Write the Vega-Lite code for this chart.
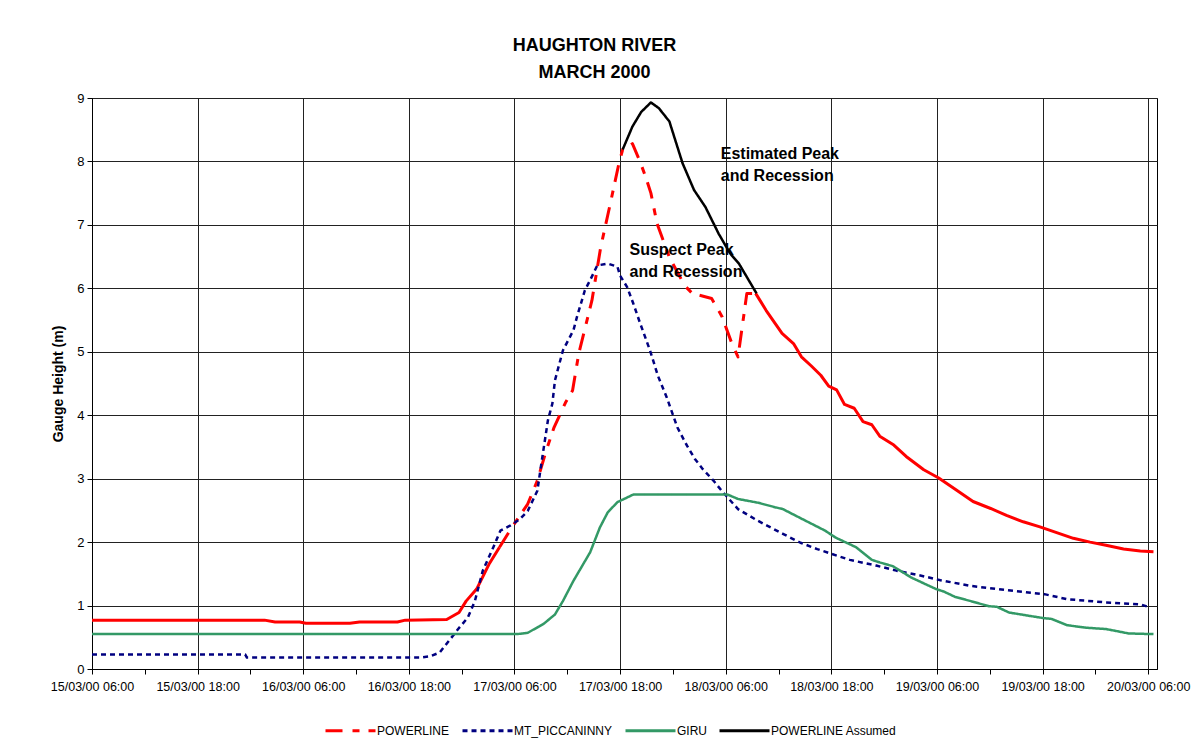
{
  "$schema": "https://vega.github.io/schema/vega-lite/v6.json",
  "width": 1065,
  "height": 571,
  "autosize": {"type": "none"},
  "padding": {"left": 92, "top": 98, "right": 47, "bottom": 76},
  "background": "white",
  "config": {
    "font": "Liberation Sans",
    "view": {"stroke": "#000", "strokeWidth": 1},
    "axis": {"labelFont": "Liberation Sans", "titleFont": "Liberation Sans", "labelColor": "#000", "titleColor": "#000", "tickColor": "#000", "domainColor": "#000", "gridColor": "#222", "gridWidth": 1, "labelFontSize": 12, "tickSize": 5},
    "legend": {"symbolType": "stroke", "symbolSize": 2500, "symbolStrokeWidth": 3, "labelFont": "Liberation Sans", "labelFontSize": 12, "labelColor": "#000", "labelOffset": 0, "columnPadding": 6, "labelLimit": 300}
  },
  "title": {
    "text": ["HAUGHTON RIVER", "MARCH 2000"],
    "font": "Liberation Sans",
    "fontSize": 18,
    "fontWeight": "bold",
    "color": "#000",
    "lineHeight": 27,
    "anchor": "middle",
    "frame": "group",
    "dx": -30,
    "offset": 10
  },
  "datasets": {
    "d": [
      {"series": "POWERLINE", "t": "2000-03-15T06:00", "v": 0.77},
      {"series": "POWERLINE", "t": "2000-03-16T01:36", "v": 0.77},
      {"series": "POWERLINE", "t": "2000-03-16T02:48", "v": 0.74},
      {"series": "POWERLINE", "t": "2000-03-16T05:36", "v": 0.74},
      {"series": "POWERLINE", "t": "2000-03-16T06:18", "v": 0.72},
      {"series": "POWERLINE", "t": "2000-03-16T11:18", "v": 0.72},
      {"series": "POWERLINE", "t": "2000-03-16T12:24", "v": 0.74},
      {"series": "POWERLINE", "t": "2000-03-16T16:42", "v": 0.74},
      {"series": "POWERLINE", "t": "2000-03-16T17:36", "v": 0.77},
      {"series": "POWERLINE", "t": "2000-03-16T22:18", "v": 0.78},
      {"series": "POWERLINE", "t": "2000-03-16T23:42", "v": 0.89},
      {"series": "POWERLINE", "t": "2000-03-17T00:30", "v": 1.07},
      {"series": "POWERLINE", "t": "2000-03-17T01:42", "v": 1.26},
      {"series": "POWERLINE", "t": "2000-03-17T03:06", "v": 1.65},
      {"series": "POWERLINE", "t": "2000-03-17T04:18", "v": 1.92},
      {"series": "POWERLINE", "t": "2000-03-17T05:42", "v": 2.23},
      {"series": "POWERLINE", "t": "2000-03-17T07:30", "v": 2.6},
      {"series": "POWERLINE", "t": "2000-03-17T08:36", "v": 2.97},
      {"series": "POWERLINE", "t": "2000-03-17T09:36", "v": 3.44},
      {"series": "POWERLINE", "t": "2000-03-17T10:30", "v": 3.81},
      {"series": "POWERLINE", "t": "2000-03-17T11:48", "v": 4.2},
      {"series": "POWERLINE", "t": "2000-03-17T12:36", "v": 4.39},
      {"series": "POWERLINE", "t": "2000-03-17T13:18", "v": 4.97},
      {"series": "POWERLINE", "t": "2000-03-17T14:48", "v": 5.81},
      {"series": "POWERLINE", "t": "2000-03-17T15:48", "v": 6.65},
      {"series": "POWERLINE", "t": "2000-03-17T16:48", "v": 7.28},
      {"series": "POWERLINE", "t": "2000-03-17T17:54", "v": 7.99},
      {"series": "POWERLINE", "t": "2000-03-17T18:18", "v": 8.19},
      {"series": "POWERLINE", "t": "2000-03-17T19:24", "v": 8.28},
      {"series": "POWERLINE", "t": "2000-03-17T20:12", "v": 8.02},
      {"series": "POWERLINE", "t": "2000-03-17T20:54", "v": 7.76},
      {"series": "POWERLINE", "t": "2000-03-17T21:30", "v": 7.5},
      {"series": "POWERLINE", "t": "2000-03-17T22:12", "v": 7.02},
      {"series": "POWERLINE", "t": "2000-03-17T23:36", "v": 6.49},
      {"series": "POWERLINE", "t": "2000-03-18T01:00", "v": 6.13},
      {"series": "POWERLINE", "t": "2000-03-18T01:30", "v": 6.02},
      {"series": "POWERLINE", "t": "2000-03-18T02:12", "v": 5.92},
      {"series": "POWERLINE", "t": "2000-03-18T04:24", "v": 5.84},
      {"series": "POWERLINE", "t": "2000-03-18T05:36", "v": 5.55},
      {"series": "POWERLINE", "t": "2000-03-18T06:42", "v": 5.13},
      {"series": "POWERLINE", "t": "2000-03-18T07:24", "v": 4.92},
      {"series": "POWERLINE", "t": "2000-03-18T08:24", "v": 5.92},
      {"series": "POWERLINE", "t": "2000-03-18T09:24", "v": 5.92},
      {"series": "POWERLINE", "t": "2000-03-18T10:36", "v": 5.65},
      {"series": "POWERLINE", "t": "2000-03-18T12:24", "v": 5.29},
      {"series": "POWERLINE", "t": "2000-03-18T13:42", "v": 5.13},
      {"series": "POWERLINE", "t": "2000-03-18T14:36", "v": 4.92},
      {"series": "POWERLINE", "t": "2000-03-18T15:42", "v": 4.78},
      {"series": "POWERLINE", "t": "2000-03-18T16:48", "v": 4.63},
      {"series": "POWERLINE", "t": "2000-03-18T17:42", "v": 4.46},
      {"series": "POWERLINE", "t": "2000-03-18T18:36", "v": 4.4},
      {"series": "POWERLINE", "t": "2000-03-18T19:30", "v": 4.17},
      {"series": "POWERLINE", "t": "2000-03-18T20:36", "v": 4.11},
      {"series": "POWERLINE", "t": "2000-03-18T21:36", "v": 3.9},
      {"series": "POWERLINE", "t": "2000-03-18T22:36", "v": 3.85},
      {"series": "POWERLINE", "t": "2000-03-18T23:30", "v": 3.67},
      {"series": "POWERLINE", "t": "2000-03-19T01:06", "v": 3.53},
      {"series": "POWERLINE", "t": "2000-03-19T02:30", "v": 3.35},
      {"series": "POWERLINE", "t": "2000-03-19T04:30", "v": 3.14},
      {"series": "POWERLINE", "t": "2000-03-19T06:12", "v": 3.01},
      {"series": "POWERLINE", "t": "2000-03-19T08:12", "v": 2.82},
      {"series": "POWERLINE", "t": "2000-03-19T10:06", "v": 2.64},
      {"series": "POWERLINE", "t": "2000-03-19T12:06", "v": 2.53},
      {"series": "POWERLINE", "t": "2000-03-19T13:54", "v": 2.42},
      {"series": "POWERLINE", "t": "2000-03-19T15:48", "v": 2.32},
      {"series": "POWERLINE", "t": "2000-03-19T17:42", "v": 2.24},
      {"series": "POWERLINE", "t": "2000-03-19T19:36", "v": 2.15},
      {"series": "POWERLINE", "t": "2000-03-19T21:30", "v": 2.06},
      {"series": "POWERLINE", "t": "2000-03-19T23:24", "v": 2.0},
      {"series": "POWERLINE", "t": "2000-03-20T01:12", "v": 1.95},
      {"series": "POWERLINE", "t": "2000-03-20T03:12", "v": 1.89},
      {"series": "POWERLINE", "t": "2000-03-20T05:06", "v": 1.86},
      {"series": "POWERLINE", "t": "2000-03-20T06:36", "v": 1.85},

      {"series": "MT_PICCANINNY", "t": "2000-03-15T06:00", "v": 0.23},
      {"series": "MT_PICCANINNY", "t": "2000-03-15T23:24", "v": 0.23},
      {"series": "MT_PICCANINNY", "t": "2000-03-15T23:36", "v": 0.18},
      {"series": "MT_PICCANINNY", "t": "2000-03-16T19:18", "v": 0.18},
      {"series": "MT_PICCANINNY", "t": "2000-03-16T20:24", "v": 0.2},
      {"series": "MT_PICCANINNY", "t": "2000-03-16T21:30", "v": 0.26},
      {"series": "MT_PICCANINNY", "t": "2000-03-16T22:42", "v": 0.47},
      {"series": "MT_PICCANINNY", "t": "2000-03-16T23:36", "v": 0.63},
      {"series": "MT_PICCANINNY", "t": "2000-03-17T00:42", "v": 0.81},
      {"series": "MT_PICCANINNY", "t": "2000-03-17T01:30", "v": 1.07},
      {"series": "MT_PICCANINNY", "t": "2000-03-17T02:24", "v": 1.55},
      {"series": "MT_PICCANINNY", "t": "2000-03-17T03:36", "v": 1.92},
      {"series": "MT_PICCANINNY", "t": "2000-03-17T04:24", "v": 2.18},
      {"series": "MT_PICCANINNY", "t": "2000-03-17T05:30", "v": 2.26},
      {"series": "MT_PICCANINNY", "t": "2000-03-17T06:36", "v": 2.36},
      {"series": "MT_PICCANINNY", "t": "2000-03-17T07:30", "v": 2.49},
      {"series": "MT_PICCANINNY", "t": "2000-03-17T08:36", "v": 2.81},
      {"series": "MT_PICCANINNY", "t": "2000-03-17T09:06", "v": 3.28},
      {"series": "MT_PICCANINNY", "t": "2000-03-17T09:48", "v": 3.92},
      {"series": "MT_PICCANINNY", "t": "2000-03-17T10:18", "v": 4.18},
      {"series": "MT_PICCANINNY", "t": "2000-03-17T10:36", "v": 4.55},
      {"series": "MT_PICCANINNY", "t": "2000-03-17T11:30", "v": 5.02},
      {"series": "MT_PICCANINNY", "t": "2000-03-17T12:42", "v": 5.34},
      {"series": "MT_PICCANINNY", "t": "2000-03-17T13:06", "v": 5.55},
      {"series": "MT_PICCANINNY", "t": "2000-03-17T14:00", "v": 5.97},
      {"series": "MT_PICCANINNY", "t": "2000-03-17T14:36", "v": 6.13},
      {"series": "MT_PICCANINNY", "t": "2000-03-17T15:24", "v": 6.36},
      {"series": "MT_PICCANINNY", "t": "2000-03-17T16:36", "v": 6.39},
      {"series": "MT_PICCANINNY", "t": "2000-03-17T17:42", "v": 6.34},
      {"series": "MT_PICCANINNY", "t": "2000-03-17T18:00", "v": 6.2},
      {"series": "MT_PICCANINNY", "t": "2000-03-17T18:48", "v": 6.02},
      {"series": "MT_PICCANINNY", "t": "2000-03-17T19:30", "v": 5.76},
      {"series": "MT_PICCANINNY", "t": "2000-03-17T20:18", "v": 5.44},
      {"series": "MT_PICCANINNY", "t": "2000-03-17T21:24", "v": 5.02},
      {"series": "MT_PICCANINNY", "t": "2000-03-17T22:18", "v": 4.62},
      {"series": "MT_PICCANINNY", "t": "2000-03-17T23:18", "v": 4.28},
      {"series": "MT_PICCANINNY", "t": "2000-03-18T00:30", "v": 3.81},
      {"series": "MT_PICCANINNY", "t": "2000-03-18T01:36", "v": 3.52},
      {"series": "MT_PICCANINNY", "t": "2000-03-18T02:30", "v": 3.31},
      {"series": "MT_PICCANINNY", "t": "2000-03-18T03:24", "v": 3.15},
      {"series": "MT_PICCANINNY", "t": "2000-03-18T04:36", "v": 2.97},
      {"series": "MT_PICCANINNY", "t": "2000-03-18T05:36", "v": 2.8},
      {"series": "MT_PICCANINNY", "t": "2000-03-18T07:24", "v": 2.52},
      {"series": "MT_PICCANINNY", "t": "2000-03-18T09:36", "v": 2.34},
      {"series": "MT_PICCANINNY", "t": "2000-03-18T10:42", "v": 2.26},
      {"series": "MT_PICCANINNY", "t": "2000-03-18T12:30", "v": 2.13},
      {"series": "MT_PICCANINNY", "t": "2000-03-18T14:30", "v": 1.99},
      {"series": "MT_PICCANINNY", "t": "2000-03-18T16:24", "v": 1.89},
      {"series": "MT_PICCANINNY", "t": "2000-03-18T17:54", "v": 1.82},
      {"series": "MT_PICCANINNY", "t": "2000-03-18T20:06", "v": 1.72},
      {"series": "MT_PICCANINNY", "t": "2000-03-18T23:06", "v": 1.63},
      {"series": "MT_PICCANINNY", "t": "2000-03-19T01:24", "v": 1.55},
      {"series": "MT_PICCANINNY", "t": "2000-03-19T03:54", "v": 1.48},
      {"series": "MT_PICCANINNY", "t": "2000-03-19T06:24", "v": 1.4},
      {"series": "MT_PICCANINNY", "t": "2000-03-19T09:48", "v": 1.31},
      {"series": "MT_PICCANINNY", "t": "2000-03-19T14:06", "v": 1.24},
      {"series": "MT_PICCANINNY", "t": "2000-03-19T18:12", "v": 1.18},
      {"series": "MT_PICCANINNY", "t": "2000-03-19T20:48", "v": 1.1},
      {"series": "MT_PICCANINNY", "t": "2000-03-20T01:12", "v": 1.05},
      {"series": "MT_PICCANINNY", "t": "2000-03-20T05:06", "v": 1.02},
      {"series": "MT_PICCANINNY", "t": "2000-03-20T06:00", "v": 0.98},

      {"series": "GIRU", "t": "2000-03-15T06:00", "v": 0.55},
      {"series": "GIRU", "t": "2000-03-17T06:18", "v": 0.55},
      {"series": "GIRU", "t": "2000-03-17T07:30", "v": 0.57},
      {"series": "GIRU", "t": "2000-03-17T09:18", "v": 0.71},
      {"series": "GIRU", "t": "2000-03-17T10:36", "v": 0.86},
      {"series": "GIRU", "t": "2000-03-17T11:30", "v": 1.07},
      {"series": "GIRU", "t": "2000-03-17T12:42", "v": 1.39},
      {"series": "GIRU", "t": "2000-03-17T14:36", "v": 1.84},
      {"series": "GIRU", "t": "2000-03-17T15:42", "v": 2.23},
      {"series": "GIRU", "t": "2000-03-17T16:36", "v": 2.47},
      {"series": "GIRU", "t": "2000-03-17T17:42", "v": 2.63},
      {"series": "GIRU", "t": "2000-03-17T19:30", "v": 2.75},
      {"series": "GIRU", "t": "2000-03-18T06:12", "v": 2.75},
      {"series": "GIRU", "t": "2000-03-18T07:24", "v": 2.68},
      {"series": "GIRU", "t": "2000-03-18T09:42", "v": 2.62},
      {"series": "GIRU", "t": "2000-03-18T11:36", "v": 2.55},
      {"series": "GIRU", "t": "2000-03-18T12:30", "v": 2.52},
      {"series": "GIRU", "t": "2000-03-18T13:54", "v": 2.42},
      {"series": "GIRU", "t": "2000-03-18T15:36", "v": 2.3},
      {"series": "GIRU", "t": "2000-03-18T17:18", "v": 2.18},
      {"series": "GIRU", "t": "2000-03-18T18:30", "v": 2.07},
      {"series": "GIRU", "t": "2000-03-18T20:48", "v": 1.92},
      {"series": "GIRU", "t": "2000-03-18T22:36", "v": 1.72},
      {"series": "GIRU", "t": "2000-03-18T23:30", "v": 1.68},
      {"series": "GIRU", "t": "2000-03-19T01:00", "v": 1.62},
      {"series": "GIRU", "t": "2000-03-19T03:06", "v": 1.44},
      {"series": "GIRU", "t": "2000-03-19T05:54", "v": 1.26},
      {"series": "GIRU", "t": "2000-03-19T06:48", "v": 1.22},
      {"series": "GIRU", "t": "2000-03-19T08:00", "v": 1.14},
      {"series": "GIRU", "t": "2000-03-19T10:06", "v": 1.06},
      {"series": "GIRU", "t": "2000-03-19T11:54", "v": 0.99},
      {"series": "GIRU", "t": "2000-03-19T12:48", "v": 0.98},
      {"series": "GIRU", "t": "2000-03-19T14:12", "v": 0.89},
      {"series": "GIRU", "t": "2000-03-19T16:24", "v": 0.84},
      {"series": "GIRU", "t": "2000-03-19T18:12", "v": 0.8},
      {"series": "GIRU", "t": "2000-03-19T19:00", "v": 0.79},
      {"series": "GIRU", "t": "2000-03-19T20:48", "v": 0.69},
      {"series": "GIRU", "t": "2000-03-19T23:00", "v": 0.65},
      {"series": "GIRU", "t": "2000-03-20T01:12", "v": 0.63},
      {"series": "GIRU", "t": "2000-03-20T03:48", "v": 0.56},
      {"series": "GIRU", "t": "2000-03-20T06:36", "v": 0.55},

      {"series": "POWERLINE Assumed", "t": "2000-03-17T18:18", "v": 8.19},
      {"series": "POWERLINE Assumed", "t": "2000-03-17T19:24", "v": 8.55},
      {"series": "POWERLINE Assumed", "t": "2000-03-17T20:24", "v": 8.78},
      {"series": "POWERLINE Assumed", "t": "2000-03-17T21:30", "v": 8.93},
      {"series": "POWERLINE Assumed", "t": "2000-03-17T22:24", "v": 8.84},
      {"series": "POWERLINE Assumed", "t": "2000-03-17T23:36", "v": 8.63},
      {"series": "POWERLINE Assumed", "t": "2000-03-18T01:06", "v": 7.97},
      {"series": "POWERLINE Assumed", "t": "2000-03-18T02:24", "v": 7.55},
      {"series": "POWERLINE Assumed", "t": "2000-03-18T03:42", "v": 7.28},
      {"series": "POWERLINE Assumed", "t": "2000-03-18T05:12", "v": 6.86},
      {"series": "POWERLINE Assumed", "t": "2000-03-18T06:30", "v": 6.55},
      {"series": "POWERLINE Assumed", "t": "2000-03-18T07:30", "v": 6.39},
      {"series": "POWERLINE Assumed", "t": "2000-03-18T09:30", "v": 5.92}
    ]
  },
  "data": {"name": "d"},
  "encoding": {
    "x": {
      "field": "t",
      "type": "temporal",
      "title": null,
      "scale": {"domain": [{"year": 2000, "month": 3, "date": 15, "hours": 6}, {"year": 2000, "month": 3, "date": 20, "hours": 7}]},
      "axis": {
        "values": [
          {"year": 2000, "month": 3, "date": 15, "hours": 6}, {"year": 2000, "month": 3, "date": 15, "hours": 12}, {"year": 2000, "month": 3, "date": 15, "hours": 18},
          {"year": 2000, "month": 3, "date": 16, "hours": 0}, {"year": 2000, "month": 3, "date": 16, "hours": 6}, {"year": 2000, "month": 3, "date": 16, "hours": 12}, {"year": 2000, "month": 3, "date": 16, "hours": 18},
          {"year": 2000, "month": 3, "date": 17, "hours": 0}, {"year": 2000, "month": 3, "date": 17, "hours": 6}, {"year": 2000, "month": 3, "date": 17, "hours": 12}, {"year": 2000, "month": 3, "date": 17, "hours": 18},
          {"year": 2000, "month": 3, "date": 18, "hours": 0}, {"year": 2000, "month": 3, "date": 18, "hours": 6}, {"year": 2000, "month": 3, "date": 18, "hours": 12}, {"year": 2000, "month": 3, "date": 18, "hours": 18},
          {"year": 2000, "month": 3, "date": 19, "hours": 0}, {"year": 2000, "month": 3, "date": 19, "hours": 6}, {"year": 2000, "month": 3, "date": 19, "hours": 12}, {"year": 2000, "month": 3, "date": 19, "hours": 18},
          {"year": 2000, "month": 3, "date": 20, "hours": 0}, {"year": 2000, "month": 3, "date": 20, "hours": 6}
        ],
        "labelExpr": "hours(datum.value) % 12 == 6 ? timeFormat(datum.value, '%d/%m/%y %H:%M') : ''",
        "labelOverlap": false,
        "labelFlush": false,
        "labelPadding": 6,
        "labelFontSize": 12.5,
        "grid": true,
        "gridOpacity": {"condition": {"test": "hours(datum.value) % 12 == 6", "value": 1}, "value": 0}
      }
    },
    "y": {
      "field": "v",
      "type": "quantitative",
      "scale": {"domain": [0, 9], "nice": false},
      "axis": {
        "values": [0, 1, 2, 3, 4, 5, 6, 7, 8, 9],
        "title": "Gauge Height (m)",
        "titleFontSize": 14,
        "titleFontWeight": "bold",
        "titlePadding": 11,
        "labelPadding": 3,
        "labelFontSize": 13,
        "grid": true
      }
    }
  },
  "layer": [
    {
      "transform": [{"filter": "datum.series == 'POWERLINE' && time(datum.t) <= time('2000-03-17T04:18')"}],
      "mark": {"type": "line", "strokeWidth": 3, "strokeJoin": "round"},
      "encoding": {
        "color": {"field": "series", "type": "nominal", "scale": {"domain": ["POWERLINE", "MT_PICCANINNY", "GIRU", "POWERLINE Assumed"], "range": ["#ff0000", "#000080", "#339966", "#000000"]}, "legend": {"title": null, "orient": "none", "legendX": 232, "legendY": 606, "direction": "horizontal"}}
      }
    },
    {
      "transform": [{"filter": "datum.series == 'POWERLINE' && time(datum.t) >= time('2000-03-17T04:18') && time(datum.t) <= time('2000-03-18T09:24')"}],
      "mark": {"type": "line", "strokeWidth": 3, "strokeJoin": "round"},
      "encoding": {
        "color": {"field": "series", "type": "nominal", "scale": {"domain": ["POWERLINE", "MT_PICCANINNY", "GIRU", "POWERLINE Assumed"], "range": ["#ff0000", "#000080", "#339966", "#000000"]}, "legend": {"title": null, "orient": "none", "legendX": 232, "legendY": 606, "direction": "horizontal"}},
        "strokeDash": {"field": "series", "type": "nominal", "scale": {"domain": ["POWERLINE", "MT_PICCANINNY", "GIRU", "POWERLINE Assumed"], "range": [[17, 10, 7, 9], [5, 4], [1, 0], [1, 0]]}, "legend": {"title": null, "orient": "none", "legendX": 232, "legendY": 606, "direction": "horizontal"}}
      }
    },
    {
      "transform": [{"filter": "datum.series == 'POWERLINE' && time(datum.t) >= time('2000-03-18T09:24')"}],
      "mark": {"type": "line", "strokeWidth": 3, "strokeJoin": "round"},
      "encoding": {
        "color": {"field": "series", "type": "nominal", "scale": {"domain": ["POWERLINE", "MT_PICCANINNY", "GIRU", "POWERLINE Assumed"], "range": ["#ff0000", "#000080", "#339966", "#000000"]}, "legend": {"title": null, "orient": "none", "legendX": 232, "legendY": 606, "direction": "horizontal"}}
      }
    },
    {
      "transform": [{"filter": "datum.series != 'POWERLINE'"}],
      "mark": {"type": "line", "strokeWidth": 2.5, "strokeJoin": "round"},
      "encoding": {
        "color": {"field": "series", "type": "nominal", "scale": {"domain": ["POWERLINE", "MT_PICCANINNY", "GIRU", "POWERLINE Assumed"], "range": ["#ff0000", "#000080", "#339966", "#000000"]}, "legend": {"title": null, "orient": "none", "legendX": 232, "legendY": 606, "direction": "horizontal"}},
        "strokeDash": {"field": "series", "type": "nominal", "scale": {"domain": ["POWERLINE", "MT_PICCANINNY", "GIRU", "POWERLINE Assumed"], "range": [[17, 10, 7, 9], [5, 4], [1, 0], [1, 0]]}, "legend": {"title": null, "orient": "none", "legendX": 232, "legendY": 606, "direction": "horizontal"}}
      }
    },
    {
      "data": {"values": [
        {"t": "2000-03-18T05:26", "v": 8.04, "label": "Estimated Peak\nand Recession"},
        {"t": "2000-03-17T19:04", "v": 6.53, "label": "Suspect Peak\nand Recession"}
      ]},
      "mark": {"type": "text", "align": "left", "baseline": "alphabetic", "font": "Liberation Sans", "fontSize": 16, "fontWeight": "bold", "lineBreak": "\n", "lineHeight": 22, "color": "#000"},
      "encoding": {"text": {"field": "label"}}
    }
  ]
}
